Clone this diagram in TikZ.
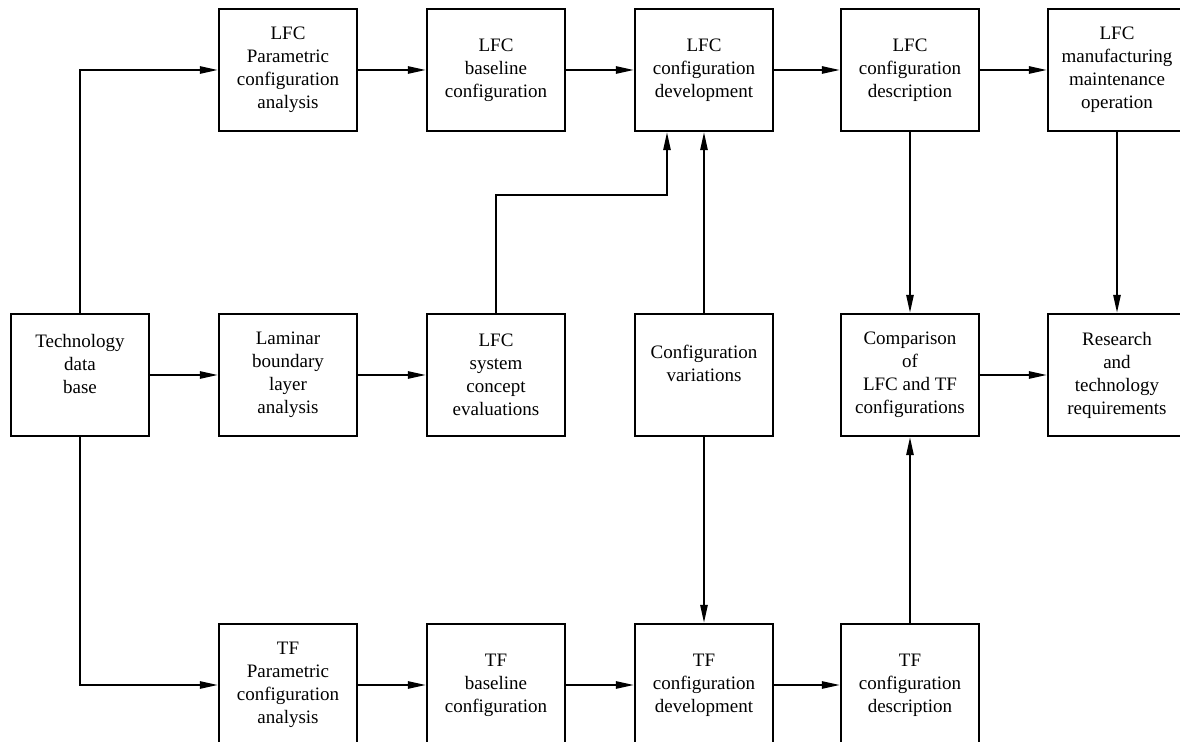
\documentclass[tikz,border=0pt]{standalone}
\usepackage{fontspec}
\setmainfont{Liberation Serif}
\usetikzlibrary{arrows.meta,positioning,calc}

\begin{document}
\begin{tikzpicture}[x=0.5pt,y=-0.5pt,
  b/.style={rectangle, draw, line width=1.1pt, minimum width=69pt, minimum height=61pt, align=center, inner sep=1pt, font=\fontsize{9.5}{11.5}\selectfont},
  e/.style={-{Triangle[length=9pt,width=3.6pt]}, line width=1pt}
]
  \useasboundingbox (0,0) rectangle (1180,742);
  % top row: LFC
  \node[b] (lpa) at (288,70) {LFC\\Parametric\\configuration\\analysis};
  \node[b] (lbc) at (496,70) {LFC\\baseline\\configuration};
  \node[b] (lcd) at (704,70) {LFC\\configuration\\development};
  \node[b] (lds) at (910,70) {LFC\\configuration\\description};
  \node[b] (lmo) at (1117,70) {LFC\\manufacturing\\maintenance\\operation};
  % middle row
  \node[b] (tdb) at (80,375) {Technology\\data\\base\\\mbox{}};
  \node[b] (lbl) at (288,375) {Laminar\\boundary\\layer\\analysis};
  \node[b] (lse) at (496,375) {LFC\\system\\concept\\evaluations};
  \node[b] (cv) at (704,375) {Configuration\\variations\\\mbox{}};
  \node[b] (cmp) at (910,375) {Comparison\\of\\LFC and TF\\configurations};
  \node[b] (rtr) at (1117,375) {Research\\and\\technology\\requirements};
  % bottom row: TF
  \node[b] (tpa) at (288,685) {TF\\Parametric\\configuration\\analysis};
  \node[b] (tbc) at (496,685) {TF\\baseline\\configuration};
  \node[b] (tcd) at (704,685) {TF\\configuration\\development};
  \node[b] (tds) at (910,685) {TF\\configuration\\description};
  \coordinate (k) at (667,195);

  \draw[e] (tdb.north) |- (lpa.west);
  \draw[e] (tdb.south) |- (tpa.west);
  \draw[e] (tdb) -- (lbl); \draw[e] (lbl) -- (lse);
  \draw[e] (lpa) -- (lbc); \draw[e] (lbc) -- (lcd);
  \draw[e] (lcd) -- (lds); \draw[e] (lds) -- (lmo);
  \draw[e] (tpa) -- (tbc); \draw[e] (tbc) -- (tcd);
  \draw[e] (tcd) -- (tds);
  \draw[e] (lse.north) |- (k) -- (k |- lcd.south);
  \draw[e] (cv.north) -- (lcd.south);
  \draw[e] (cv.south) -- (tcd.north);
  \draw[e] (lds.south) -- (cmp.north);
  \draw[e] (tds.north) -- (cmp.south);
  \draw[e] (lmo.south) -- (rtr.north);
  \draw[e] (cmp) -- (rtr);
\end{tikzpicture}
\end{document}
